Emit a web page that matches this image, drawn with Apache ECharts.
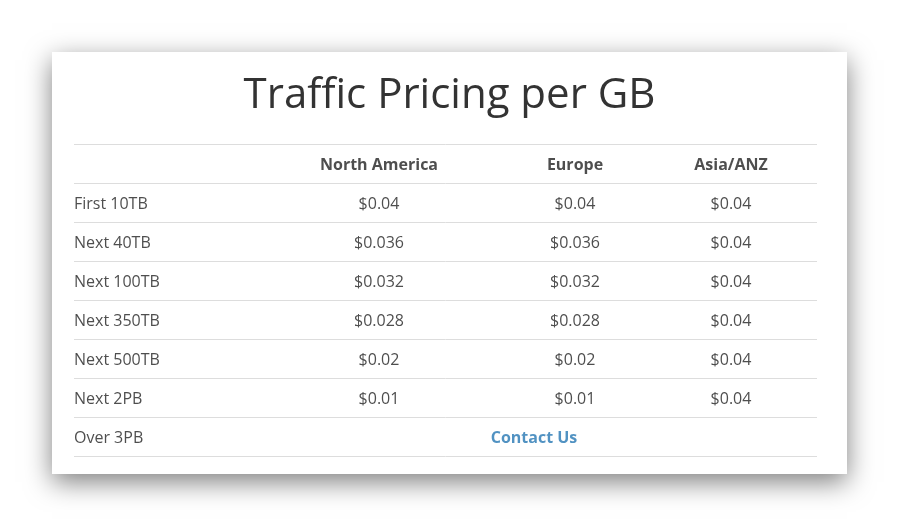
<!DOCTYPE html>
<html><head><meta charset="utf-8">
<script src="https://cdn.jsdelivr.net/npm/echarts@6/dist/echarts.min.js"></script>
<style>html,body{margin:0;padding:0;background:#fff}#c{width:899px;height:527px}</style>
</head><body><div id="c"></div>
<script>
const title = 'Traffic Pricing per GB';
const headers = ['North America', 'Europe', 'Asia/ANZ'];
const tiers = ['First 10TB', 'Next 40TB', 'Next 100TB', 'Next 350TB', 'Next 500TB', 'Next 2PB', 'Over 3PB'];
const northAmerica = ['$0.04', '$0.036', '$0.032', '$0.028', '$0.02', '$0.01'];
const europe = ['$0.04', '$0.036', '$0.032', '$0.028', '$0.02', '$0.01'];
const asiaAnz = ['$0.04', '$0.04', '$0.04', '$0.04', '$0.04', '$0.04'];
const contactText = 'Contact Us';

const colX = [305, 501, 657];
const rows = ['header'].concat(tiers);
const pts = [];
headers.forEach((h, i) => pts.push({value: [colX[i], 0], label: {formatter: h, fontWeight: 'bold'}}));
tiers.forEach((t, r) => pts.push({value: [0, r + 1], label: {formatter: t, align: 'left'}}));
[northAmerica, europe, asiaAnz].forEach((col, i) => col.forEach((v, r) => pts.push({value: [colX[i], r + 1], label: {formatter: v}})));
pts.push({value: [460, tiers.length], label: {formatter: contactText, fontWeight: 'bold', color: '#2577b3'}});

const chart = echarts.init(document.getElementById('c'));
chart.setOption({
  backgroundColor: '#fff',
  graphic: [{type: 'rect', z: -1, shape: {x: 52, y: 52, width: 795, height: 422},
    style: {fill: '#fff', shadowBlur: 25, shadowOffsetX: 0, shadowOffsetY: 8, shadowColor: 'rgba(0,0,0,0.5)'}}],
  title: {text: title, left: 'center', top: 70,
    textStyle: {fontFamily: 'Open Sans', fontSize: 42, fontWeight: 'normal', color: '#333'}},
  grid: {left: 74, width: 743, top: 144, height: 312},
  xAxis: {type: 'value', min: 0, max: 743, show: false},
  yAxis: {type: 'category', data: rows, inverse: true, boundaryGap: true,
    axisLine: {show: false}, axisTick: {show: false}, axisLabel: {show: false},
    splitLine: {show: true, interval: (i) => i < rows.length, lineStyle: {color: '#ddd', width: 1}}},
  series: [{type: 'scatter', symbolSize: 0, data: pts, silent: true,
    label: {show: true, position: 'inside', offset: [0, 2], fontFamily: 'Open Sans', fontSize: 16, color: '#222'}}]
});
</script></body></html>
